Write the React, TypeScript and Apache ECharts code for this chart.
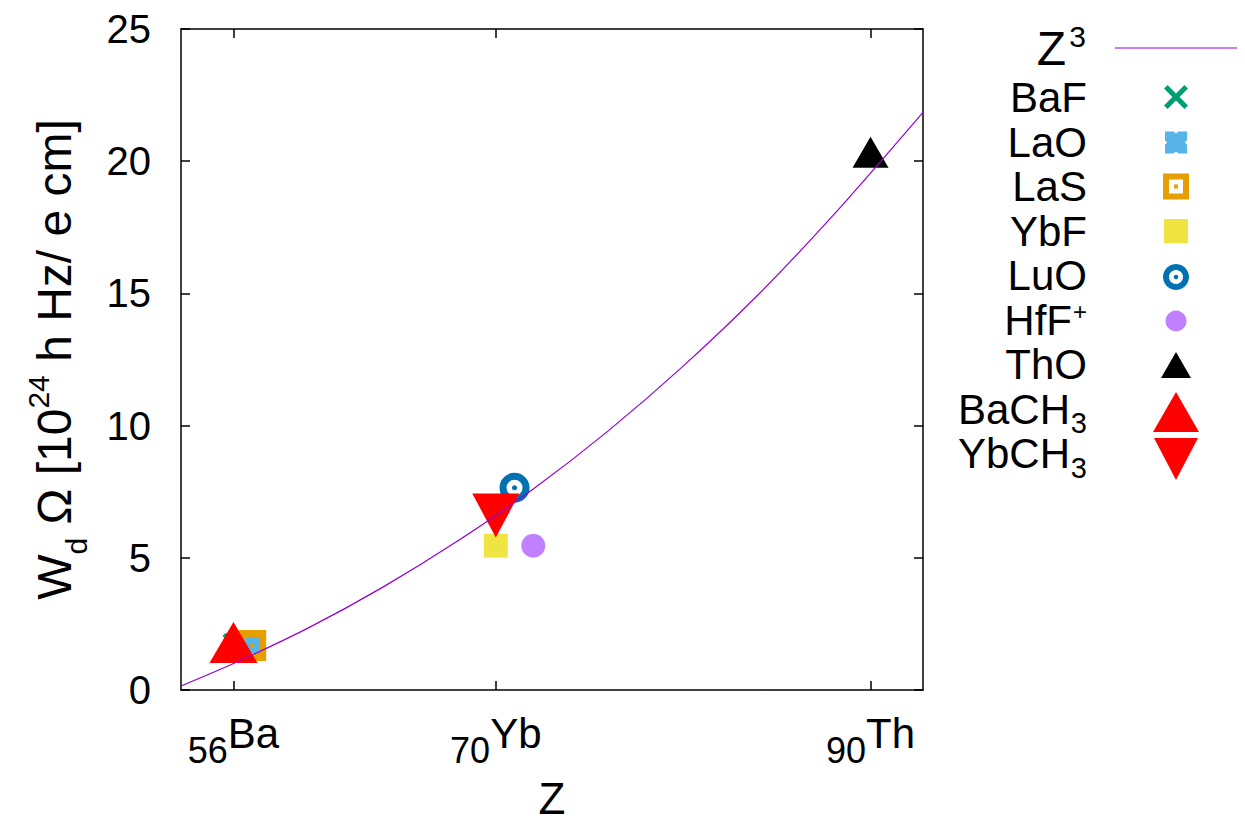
import React, { useEffect, useRef } from "react";
import * as echarts from "echarts";

const FONT = "'Liberation Sans', Arial, Helvetica, sans-serif";

// Z^3 guide curve
const curveZ = [53.2, 56, 60, 64, 68, 72, 76, 80, 84, 88, 92.8];
const curveW = [0.15, 1.0, 2.35, 3.9, 5.65, 7.6, 9.8, 12.25, 14.95, 17.95, 21.85];

// molecules
const moleculeNames = ["BaF", "LaO", "LaS", "YbF", "LuO", "HfF+", "ThO", "BaCH3", "YbCH3"];
const moleculeZ = [56, 57, 57, 70, 71, 72, 90, 56, 70];
const moleculeW = [1.75, 1.7, 1.68, 5.46, 7.65, 5.46, 20.34, 1.8, 6.6];

// axis ticks
const xTickValues = [56, 70, 90];
const xTickElements = ["Ba", "Yb", "Th"];
const yMin = 0;
const yMax = 25;
const yStep = 5;

// styles
const X_PATH = "path://M0,3L3,0L10,7L17,0L20,3L13,10L20,17L17,20L10,13L3,20L0,17L7,10Z";
const NOTCH_PATH = "path://M0,0L8,0L10,2L12,0L20,0L20,8L18,10L20,12L20,20L12,20L10,18L8,20L0,20L0,12L2,10L0,8Z";
const HOLLOW_SQ = "path://M0,0L30,0L30,30L0,30Z M7,7L7,23L23,23L23,7Z M13,13L17,13L17,17L13,17Z";
const RING_DOT =
  "path://M0,15A15,15,0,1,1,30,15A15,15,0,1,1,0,15Z M7,15A8,8,0,1,0,23,15A8,8,0,1,0,7,15Z M12.5,15A2.5,2.5,0,1,1,17.5,15A2.5,2.5,0,1,1,12.5,15Z";

const styles: any[] = [
  { color: "#009e73", symbol: X_PATH, size: 22, rotate: 0 },
  { color: "#56b4e9", symbol: NOTCH_PATH, size: 20, rotate: 0 },
  { color: "#e69f00", symbol: HOLLOW_SQ, size: [28, 31], rotate: 0 },
  { color: "#f0e442", symbol: "rect", size: 24, rotate: 0 },
  { color: "#0072b2", symbol: RING_DOT, size: 30, rotate: 0 },
  { color: "#c080ff", symbol: "circle", size: 24, rotate: 0 },
  { color: "#000000", symbol: "triangle", size: [36, 31], rotate: 0 },
  { color: "#ff0000", symbol: "triangle", size: [48, 41], rotate: 0 },
  { color: "#ff0000", symbol: "triangle", size: [47, 44], rotate: 180 },
];

// legend texts: main part, superscript part, subscript part
const legendMain = ["BaF", "LaO", "LaS", "YbF", "LuO", "HfF", "ThO", "BaCH", "YbCH"];
const legendSup = ["", "", "", "", "", "+", "", "", ""];
const legendSub = ["", "", "", "", "", "", "", "3", "3"];

function txt(text: string, x: number, y: number, size: number, align = "right", va = "middle") {
  return {
    type: "text",
    x,
    y,
    style: {
      text,
      align,
      verticalAlign: va,
      textAlign: align,
      textVerticalAlign: va,
      fontFamily: FONT,
      fontSize: size,
      fill: "#000",
    },
  };
}

function tri(cx: number, cy: number, w: number, h: number, down: boolean) {
  return down
    ? [[cx - w / 2, cy - h / 2], [cx + w / 2, cy - h / 2], [cx, cy + h / 2]]
    : [[cx - w / 2, cy + h / 2], [cx + w / 2, cy + h / 2], [cx, cy - h / 2]];
}
function scalePts(pts: number[][], cx: number, cy: number, s: number) {
  return pts.map(([x, y]) => [cx + (x - 10) * s, cy + (y - 10) * s]);
}
const X_PTS = [[0, 3], [3, 0], [10, 7], [17, 0], [20, 3], [13, 10], [20, 17], [17, 20], [10, 13], [3, 20], [0, 17], [7, 10]];
const NOTCH_PTS = [[0, 0], [8, 0], [10, 2], [12, 0], [20, 0], [20, 8], [18, 10], [20, 12], [20, 20], [12, 20], [10, 18], [8, 20], [0, 20], [0, 12], [2, 10], [0, 8]];

function buildLegend() {
  const TX = 1087;
  const IX = 1176;
  const textRows = [97.5, 142, 186.5, 231, 275.5, 320, 364.5, 409, 453.5];
  const iconRows = [97, 142.5, 186.5, 231, 277, 321, 365, 412, 459];
  const els: any[] = [];
  // Z^3 row
  els.push(txt("Z", 1066, 48, 48));
  els.push(txt("3", 1086, 36, 30));
  els.push({
    type: "line",
    shape: { x1: 1115, y1: 48, x2: 1237, y2: 48 },
    style: { stroke: "#9400d3", lineWidth: 1.2 },
  });
  legendMain.forEach((m, i) => {
    const yy = textRows[i];
    if (legendSup[i]) {
      els.push(txt(m, TX - 15, yy, 42));
      els.push(txt(legendSup[i], TX, yy - 9, 24));
    } else if (legendSub[i]) {
      els.push(txt(m, TX - 17, yy, 42));
      els.push(txt(legendSub[i], TX, yy + 14, 29));
    } else {
      els.push(txt(m, TX, yy, 42));
    }
  });
  const y = iconRows;
  const c = styles.map((s) => s.color);
  els.push({ type: "polygon", shape: { points: scalePts(X_PTS, IX, y[0], 1.2) }, style: { fill: c[0] } });
  els.push({ type: "polygon", shape: { points: scalePts(NOTCH_PTS, IX, y[1], 1.1) }, style: { fill: c[1] } });
  els.push({ type: "rect", shape: { x: IX - 13, y: y[2] - 13, width: 26, height: 26 }, style: { fill: c[2] } });
  els.push({ type: "rect", shape: { x: IX - 7, y: y[2] - 7, width: 14, height: 14 }, style: { fill: "#fff" } });
  els.push({ type: "rect", shape: { x: IX - 2, y: y[2] - 2, width: 4, height: 4 }, style: { fill: c[2] } });
  els.push({ type: "rect", shape: { x: IX - 12, y: y[3] - 12, width: 24, height: 24 }, style: { fill: c[3] } });
  els.push({ type: "circle", shape: { cx: IX, cy: y[4], r: 13 }, style: { fill: c[4] } });
  els.push({ type: "circle", shape: { cx: IX, cy: y[4], r: 7 }, style: { fill: "#fff" } });
  els.push({ type: "circle", shape: { cx: IX, cy: y[4], r: 2.3 }, style: { fill: c[4] } });
  els.push({ type: "circle", shape: { cx: IX, cy: y[5], r: 10.5 }, style: { fill: c[5] } });
  els.push({ type: "polygon", shape: { points: tri(IX, y[6], 30, 26, false) }, style: { fill: c[6] } });
  els.push({ type: "polygon", shape: { points: tri(IX, y[7], 46, 40, false) }, style: { fill: c[7] } });
  els.push({ type: "polygon", shape: { points: tri(IX, y[8], 44, 42, true) }, style: { fill: c[8] } });
  return els;
}

export default function App() {
  const ref = useRef<HTMLDivElement>(null);
  useEffect(() => {
    if (!ref.current) return;
    const chart = echarts.init(ref.current, undefined, { renderer: "svg" });
    const axisLineStyle = { color: "#000", width: 1.5 };
    const xCommon = {
      type: "value",
      min: 53.2,
      max: 92.8,
      splitLine: { show: false },
      axisLine: { show: true, onZero: false, lineStyle: axisLineStyle },
      axisTick: { show: true, inside: true, length: 9, customValues: xTickValues, lineStyle: axisLineStyle },
    };
    const yCommon = {
      type: "value",
      min: yMin,
      max: yMax,
      interval: yStep,
      splitLine: { show: false },
      axisLine: { show: true, onZero: false, lineStyle: axisLineStyle },
      axisTick: { show: true, inside: true, length: 9, lineStyle: axisLineStyle },
    };
    const option: any = {
      animation: false,
      backgroundColor: "#ffffff",
      textStyle: { fontFamily: FONT },
      grid: { left: 181, right: 322, top: 29, bottom: 136, containLabel: false },
      xAxis: [
        {
          ...xCommon,
          position: "bottom",
          name: "Z",
          nameLocation: "middle",
          nameGap: 86,
          nameTextStyle: { fontSize: 44, color: "#000", fontFamily: FONT },
          axisLabel: {
            show: true,
            customValues: xTickValues,
            margin: 8,
            color: "#000",
            formatter: (v: number) => {
              const i = xTickValues.indexOf(Math.round(v));
              return "{sub|" + xTickValues[i] + "}{el|" + xTickElements[i] + "}";
            },
            rich: {
              el: { fontSize: 42, color: "#000", fontFamily: FONT },
              sub: { fontSize: 36, color: "#000", fontFamily: FONT, padding: [34, 0, 0, 0] },
            },
          },
        },
        { ...xCommon, position: "top", axisLabel: { show: false } },
      ],
      yAxis: [
        {
          ...yCommon,
          position: "left",
          name: "{n|W}{sub|d}{n| Ω [10}{sup|24}{n| h Hz/ e cm]}",
          nameLocation: "middle",
          nameGap: 90,
          nameTextStyle: {
            color: "#000",
            fontFamily: FONT,
            fontSize: 48,
            rich: {
              n: { fontSize: 48, color: "#000", fontFamily: FONT },
              sub: { fontSize: 30, color: "#000", fontFamily: FONT, padding: [44, 0, 0, 0] },
              sup: { fontSize: 30, color: "#000", fontFamily: FONT, padding: [0, 0, 32, 0] },
            },
          },
          axisLabel: { show: true, fontSize: 40, color: "#000", margin: 30, fontFamily: FONT },
        },
        { ...yCommon, position: "right", axisLabel: { show: false } },
      ],
      series: [
        {
          name: "Z^3",
          type: "line",
          xAxisIndex: 0,
          yAxisIndex: 0,
          data: curveZ.map((z, i) => [z, curveW[i]]),
          showSymbol: false,
          symbol: "none",
          smooth: 0.3,
          lineStyle: { color: "#9400d3", width: 1.2 },
          silent: true,
        },
        ...moleculeNames.map((name, i) => ({
          name,
          type: "scatter",
          xAxisIndex: 0,
          yAxisIndex: 0,
          data: [[moleculeZ[i], moleculeW[i]]],
          symbol: styles[i].symbol,
          symbolSize: styles[i].size,
          symbolRotate: styles[i].rotate,
          itemStyle: { color: styles[i].color, opacity: 1 },
          silent: true,
        })),
      ],
      graphic: { elements: buildLegend() },
    };
    chart.setOption(option);
    return () => chart.dispose();
  }, []);
  return (
    <div
      ref={ref}
      style={{ position: "absolute", left: 0, top: 0, width: 1245, height: 826, background: "#fff" }}
    />
  );
}
